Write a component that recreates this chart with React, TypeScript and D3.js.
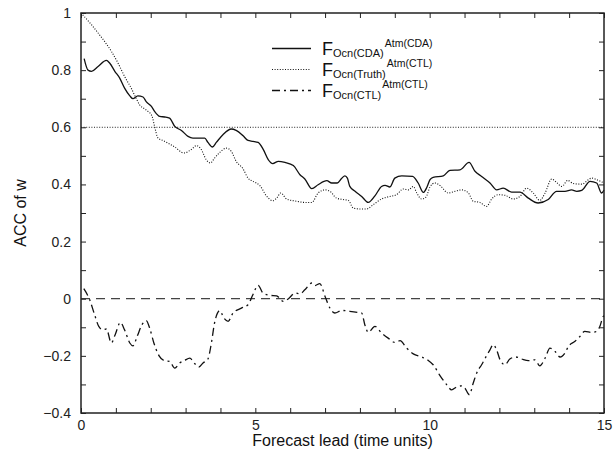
import React, { useRef, useEffect } from 'react';
import * as d3 from 'd3';

// F_Ocn(CDA)^Atm(CDA)  (solid)
const cdaLead = [0.09, 0.2, 0.3, 0.49, 0.73, 0.82, 0.97, 1.11, 1.25, 1.4, 1.49, 1.63, 1.78, 1.87, 2.02, 2.11, 2.26, 2.4, 2.54, 2.69, 2.88, 3.07, 3.21, 3.55, 3.64, 3.77, 3.88, 4.07, 4.31, 4.45, 4.65, 4.79, 4.93, 5.08, 5.23, 5.37, 5.5, 5.66, 5.85, 6.09, 6.28, 6.42, 6.62, 6.8, 7.05, 7.19, 7.35, 7.48, 7.57, 7.64, 7.71, 7.86, 8.05, 8.24, 8.43, 8.62, 8.72, 8.86, 9.0, 9.2, 9.51, 9.67, 9.82, 9.92, 10.01, 10.1, 10.39, 10.58, 10.87, 11.13, 11.3, 11.49, 11.73, 11.92, 12.11, 12.35, 12.59, 12.83, 13.11, 13.4, 13.64, 13.88, 14.07, 14.22, 14.36, 14.6, 14.79, 14.93, 15.0];
const cdaAcc = [0.84, 0.8, 0.796, 0.813, 0.834, 0.825, 0.796, 0.772, 0.737, 0.71, 0.7, 0.71, 0.706, 0.69, 0.673, 0.656, 0.638, 0.636, 0.632, 0.603, 0.589, 0.568, 0.562, 0.562, 0.547, 0.531, 0.547, 0.574, 0.594, 0.589, 0.57, 0.554, 0.551, 0.547, 0.522, 0.487, 0.473, 0.481, 0.477, 0.466, 0.434, 0.419, 0.385, 0.399, 0.413, 0.405, 0.405, 0.422, 0.43, 0.422, 0.393, 0.376, 0.358, 0.337, 0.36, 0.393, 0.397, 0.391, 0.422, 0.43, 0.428, 0.405, 0.372, 0.39, 0.417, 0.425, 0.43, 0.449, 0.451, 0.477, 0.446, 0.428, 0.405, 0.381, 0.387, 0.373, 0.373, 0.352, 0.335, 0.347, 0.376, 0.376, 0.381, 0.376, 0.379, 0.411, 0.405, 0.37, 0.38];

// F_Ocn(Truth)^Atm(CTL)  (dotted)
const truthLead = [0, 0.3, 0.49, 0.68, 0.87, 1.06, 1.25, 1.44, 1.59, 1.68, 1.83, 1.92, 2.04, 2.11, 2.21, 2.35, 2.49, 2.69, 2.95, 3.16, 3.31, 3.45, 3.59, 3.71, 3.83, 3.98, 4.17, 4.31, 4.45, 4.65, 4.79, 4.93, 5.13, 5.33, 5.5, 5.61, 5.73, 5.9, 6.19, 6.42, 6.62, 6.8, 7.0, 7.14, 7.33, 7.52, 7.67, 7.81, 8.0, 8.19, 8.38, 8.62, 8.86, 9.05, 9.24, 9.39, 9.53, 9.63, 9.77, 9.89, 10.01, 10.15, 10.3, 10.53, 10.73, 10.92, 11.11, 11.25, 11.44, 11.63, 11.78, 11.97, 12.16, 12.4, 12.59, 12.78, 12.97, 13.16, 13.31, 13.5, 13.64, 13.79, 13.96, 14.12, 14.36, 14.65, 14.84, 15.0];
const truthAcc = [1.0, 0.959, 0.93, 0.9, 0.866, 0.825, 0.778, 0.737, 0.699, 0.679, 0.664, 0.656, 0.638, 0.603, 0.562, 0.554, 0.545, 0.531, 0.51, 0.522, 0.536, 0.522, 0.487, 0.475, 0.492, 0.512, 0.527, 0.516, 0.481, 0.454, 0.422, 0.411, 0.396, 0.358, 0.343, 0.352, 0.37, 0.349, 0.341, 0.337, 0.337, 0.37, 0.381, 0.376, 0.352, 0.347, 0.344, 0.317, 0.314, 0.314, 0.329, 0.349, 0.358, 0.364, 0.384, 0.381, 0.393, 0.37, 0.349, 0.355, 0.391, 0.405, 0.396, 0.37, 0.376, 0.381, 0.37, 0.341, 0.337, 0.323, 0.349, 0.364, 0.362, 0.349, 0.358, 0.387, 0.37, 0.344, 0.37, 0.419, 0.407, 0.393, 0.414, 0.403, 0.401, 0.422, 0.414, 0.405];

// F_Ocn(CTL)^Atm(CTL)  (dash-dot)
const ctlLead = [0.08, 0.25, 0.39, 0.51, 0.63, 0.73, 0.87, 0.98, 1.13, 1.25, 1.4, 1.49, 1.61, 1.75, 1.87, 1.97, 2.09, 2.24, 2.4, 2.54, 2.69, 2.83, 2.97, 3.12, 3.26, 3.38, 3.5, 3.64, 3.74, 3.83, 3.98, 4.1, 4.22, 4.36, 4.6, 4.79, 4.93, 5.08, 5.22, 5.41, 5.61, 5.8, 5.94, 6.14, 6.28, 6.42, 6.62, 6.71, 6.85, 7.0, 7.14, 7.28, 7.48, 7.71, 7.95, 8.05, 8.14, 8.24, 8.43, 8.62, 8.81, 9.0, 9.15, 9.34, 9.53, 9.77, 9.96, 10.1, 10.3, 10.49, 10.63, 10.77, 10.92, 11.01, 11.14, 11.25, 11.35, 11.49, 11.63, 11.73, 11.82, 11.92, 12.02, 12.16, 12.3, 12.47, 12.64, 12.83, 13.02, 13.16, 13.31, 13.45, 13.59, 13.74, 13.88, 13.98, 14.17, 14.31, 14.45, 14.65, 14.79, 14.88, 14.98, 15.0];
const ctlAcc = [0.035, -0.004, -0.056, -0.097, -0.109, -0.106, -0.155, -0.126, -0.083, -0.109, -0.155, -0.165, -0.132, -0.091, -0.077, -0.103, -0.155, -0.2, -0.217, -0.219, -0.243, -0.225, -0.216, -0.208, -0.227, -0.239, -0.225, -0.211, -0.155, -0.085, -0.042, -0.068, -0.079, -0.05, -0.033, -0.021, 0.014, 0.047, 0.02, 0.012, 0.01, -0.009, -0.001, 0.02, 0.017, 0.031, 0.055, 0.046, 0.053, 0.008, -0.033, -0.05, -0.041, -0.044, -0.048, -0.05, -0.091, -0.118, -0.097, -0.12, -0.138, -0.153, -0.147, -0.173, -0.193, -0.204, -0.216, -0.231, -0.27, -0.301, -0.319, -0.309, -0.305, -0.313, -0.336, -0.295, -0.26, -0.231, -0.2, -0.179, -0.161, -0.179, -0.214, -0.231, -0.211, -0.204, -0.211, -0.217, -0.214, -0.235, -0.208, -0.173, -0.184, -0.204, -0.19, -0.167, -0.149, -0.132, -0.114, -0.118, -0.114, -0.097, -0.062, -0.06];

const xLabelTicks = [0, 5, 10, 15];
const yLabelTicks = [-0.4, -0.2, 0, 0.2, 0.4, 0.6, 0.8, 1];
const refLine = 0.6;

const W = 613, H = 451;
const margin = { top: 13, right: 9, bottom: 38, left: 81 };
const FONT = "'Liberation Sans', Arial, Helvetica, sans-serif";
const DOTTED = '1,1.6';

const series = [
  { key: 'cda', lead: cdaLead, acc: cdaAcc, dash: null, sub: 'Ocn(CDA)', sup: 'Atm(CDA)' },
  { key: 'truth', lead: truthLead, acc: truthAcc, dash: DOTTED, sub: 'Ocn(Truth)', sup: 'Atm(CTL)' },
  { key: 'ctl', lead: ctlLead, acc: ctlAcc, dash: '8,4,2,4', sub: 'Ocn(CTL)', sup: 'Atm(CTL)' },
];

export default function App() {
  const gx = useRef(null);
  const gy = useRef(null);
  const gTop = useRef(null);
  const gRight = useRef(null);

  const innerW = W - margin.left - margin.right;
  const innerH = H - margin.top - margin.bottom;
  const x = d3.scaleLinear().domain([0, 15]).range([0, innerW]);
  const y = d3.scaleLinear().domain([-0.4, 1]).range([innerH, 0]);

  const xMinor = d3.range(0, 16);
  const yMinor = d3.range(-4, 11).map(d => d / 10);

  useEffect(() => {
    const fmt = d3.format('~g');
    const style = sel => {
      sel.select('.domain').remove();
      sel.selectAll('line').attr('stroke', '#222').attr('stroke-width', 1);
      sel.selectAll('text').attr('font-family', FONT).attr('font-size', 14).attr('fill', '#222');
    };
    d3.select(gx.current).call(
      d3.axisBottom(x).tickValues(xMinor).tickSize(-5).tickPadding(7)
        .tickFormat(d => (xLabelTicks.includes(d) ? fmt(d) : ''))
    ).call(style);
    d3.select(gy.current).call(
      d3.axisLeft(y).tickValues(yMinor).tickSize(-5).tickPadding(10)
        .tickFormat(d => (yLabelTicks.some(v => Math.abs(v - d) < 1e-9) ? fmt(d) : ''))
    ).call(style);
    d3.select(gTop.current).call(d3.axisTop(x).tickValues(xMinor).tickSize(-5).tickFormat(() => '')).call(style);
    d3.select(gRight.current).call(d3.axisRight(y).tickValues(yMinor).tickSize(-5).tickFormat(() => '')).call(style);
  }, []);

  const line = (lead, acc) =>
    d3.line().x((_, i) => x(lead[i])).y(d => y(d)).curve(d3.curveMonotoneX)(acc);

  return (
    <svg width={W} height={H} style={{ position: 'absolute', left: 0, top: 0, background: '#fff' }}>
      <g transform={`translate(${margin.left},${margin.top})`}>
        <line x1={0} x2={innerW} y1={y(refLine)} y2={y(refLine)} stroke="#222" strokeWidth={1} strokeDasharray={DOTTED} />
        <line x1={0} x2={innerW} y1={y(0)} y2={y(0)} stroke="#444" strokeWidth={1.3} strokeDasharray="9,6" />
        {series.map(s => (
          <path key={s.key} d={line(s.lead, s.acc)} fill="none" stroke="#111"
            strokeWidth={s.dash === DOTTED ? 1.1 : 1.3} strokeDasharray={s.dash || undefined} />
        ))}
        <g ref={gx} transform={`translate(0,${innerH})`} />
        <g ref={gy} />
        <g ref={gTop} />
        <g ref={gRight} transform={`translate(${innerW},0)`} />
        <rect x={0} y={0} width={innerW} height={innerH} fill="none" stroke="#222" strokeWidth={1.5} />
      </g>
      {series.map((s, i) => (
        <g key={s.key}>
          <line x1={272} x2={311} y1={48.5 + i * 21} y2={48.5 + i * 21} stroke="#111"
            strokeWidth={s.dash === DOTTED ? 1.1 : 1.3} strokeDasharray={s.dash || undefined} />
          <text x={322} y={55 + i * 20.8} fontFamily={FONT} fontSize={18} fill="#111">
            F
            <tspan fontSize={11} dy={2}>{s.sub}</tspan>
            <tspan fontSize={10.5} dx={1} dy={-10.5}>{s.sup}</tspan>
          </text>
        </g>
      ))}
      <text x={(margin.left + W - margin.right) / 2} y={446} textAnchor="middle" fontFamily={FONT} fontSize={16} fill="#111">
        Forecast lead (time units)
      </text>
      <text transform={`translate(26,${margin.top + innerH / 2}) rotate(-90)`} textAnchor="middle" fontFamily={FONT} fontSize={16} fill="#111">
        ACC of w
      </text>
    </svg>
  );
}
